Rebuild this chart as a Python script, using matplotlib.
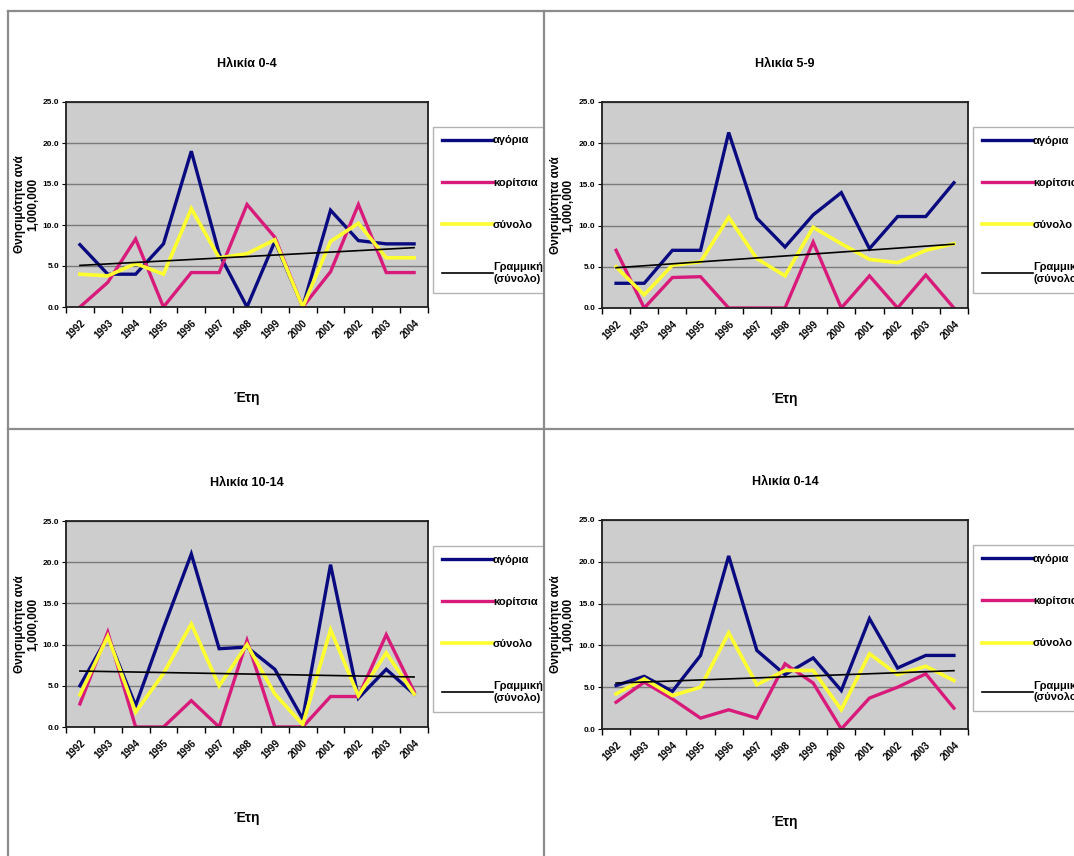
import numpy as np
import matplotlib.pyplot as plt
from matplotlib.transforms import Bbox, TransformedBbox
from matplotlib.lines import Line2D

plt.rcParams['font.family'] = ['Liberation Sans', 'DejaVu Sans']
plt.rcParams['font.weight'] = 'bold'

years = [str(y) for y in range(1992, 2005)]
titles = ["Ηλικία 0-4", "Ηλικία 5-9", "Ηλικία 10-14", "Ηλικία 0-14"]
series_names = ["αγόρια", "κορίτσια", "σύνολο", "Γραμμική\n(σύνολο)"]

# values per 1,000,000
boys_0_4 = [7.6, 4.0, 4.0, 7.7, 19.0, 6.5, 0.0, 8.0, 0.0, 11.8, 8.1, 7.7, 7.7]
girls_0_4 = [0.0, 3.0, 8.3, 0.0, 4.2, 4.2, 12.5, 8.5, 0.0, 4.3, 12.5, 4.2, 4.2]
total_0_4 = [4.0, 3.8, 5.3, 4.0, 12.0, 6.0, 6.5, 8.2, 0.0, 8.0, 10.2, 6.0, 6.0]

boys_5_9 = [3.0, 3.0, 7.0, 7.0, 21.3, 10.9, 7.4, 11.3, 14.0, 7.2, 11.1, 11.1, 15.2]
girls_5_9 = [7.0, 0.0, 3.7, 3.8, 0.0, 0.0, 0.0, 8.0, 0.0, 3.9, 0.0, 4.0, 0.0]
total_5_9 = [5.0, 1.6, 5.2, 5.6, 11.0, 6.0, 3.9, 9.8, 7.8, 5.9, 5.5, 7.0, 7.8]

boys_10_14 = [5.0, 11.0, 2.6, 12.0, 21.0, 9.5, 9.7, 7.0, 1.0, 19.7, 3.5, 7.0, 4.0]
girls_10_14 = [2.8, 11.5, 0.0, 0.0, 3.2, 0.0, 10.5, 0.0, 0.0, 3.7, 3.7, 11.2, 4.3]
total_10_14 = [3.9, 11.0, 1.8, 6.5, 12.5, 5.0, 10.0, 4.0, 0.3, 11.8, 3.8, 9.0, 4.0]

boys_0_14 = [5.2, 6.3, 4.5, 8.8, 20.7, 9.4, 6.5, 8.5, 4.6, 13.2, 7.3, 8.8, 8.8]
girls_0_14 = [3.2, 5.6, 3.6, 1.3, 2.3, 1.3, 7.8, 5.5, 0.0, 3.7, 5.0, 6.6, 2.5]
total_0_14 = [4.2, 6.0, 4.0, 5.0, 11.5, 5.3, 7.0, 7.0, 2.3, 9.0, 6.5, 7.5, 5.8]

panels = [
    (boys_0_4, girls_0_4, total_0_4),
    (boys_5_9, girls_5_9, total_5_9),
    (boys_10_14, girls_10_14, total_10_14),
    (boys_0_14, girls_0_14, total_0_14),
]

W, H = 1074, 856
fig = plt.figure(figsize=(W / 100, H / 100), dpi=100)

# axes boxes in pixels: left, top, right, bottom ; then the clip region of each panel
axes_px = [(66, 102, 428, 307), (602, 102, 968, 308),
           (66, 521, 428, 727), (602, 520, 968, 729)]
clip_px = [(8, 11, 543, 429), (545, 11, 1074, 429),
           (8, 430, 543, 856), (545, 430, 1074, 856)]

# scan border and dividers
for (x0, y0, x1, y1) in [(8, 11, 1074, 11), (8, 11, 8, 856),
                         (544, 11, 544, 856), (8, 429, 1074, 429)]:
    fig.add_artist(Line2D([x0 / W, x1 / W], [1 - y0 / H, 1 - y1 / H],
                          color='#8c8c8c', lw=1.6))

colors = ['#0a0a80', '#d81b7a', '#ffff30']

for i, (boys, girls, total) in enumerate(panels):
    l, t, r, b = axes_px[i]
    ax = fig.add_axes([l / W, 1 - b / H, (r - l) / W, (b - t) / H])
    ax.set_facecolor('#cdcdcd')
    x = np.arange(len(years))

    h1, = ax.plot(x, boys, color=colors[0], lw=2.4, solid_joinstyle='miter')
    h2, = ax.plot(x, girls, color=colors[1], lw=2.4, solid_joinstyle='miter')
    h3, = ax.plot(x, total, color=colors[2], lw=2.6, solid_joinstyle='miter')
    k, c = np.polyfit(x, total, 1)
    h4, = ax.plot(x, k * x + c, color='black', lw=1.2)

    ax.set_xlim(-0.5, len(years) - 0.5)
    ax.set_ylim(0, 25)
    ax.set_yticks(np.arange(0, 26, 5))
    ax.set_yticklabels([f"{v:.1f}" for v in np.arange(0, 26, 5)], fontsize=6)
    ax.yaxis.grid(True, color='#7a7a7a', lw=1.0)
    ax.set_axisbelow(True)
    ax.set_xticks(x)
    ax.set_xticklabels(years, rotation=45, ha='right', rotation_mode='anchor',
                       fontsize=7)
    ax.set_xticks(np.arange(-0.5, len(years)), minor=True)
    ax.tick_params(axis='x', which='major', length=0, pad=8)
    ax.tick_params(axis='x', which='minor', length=4, width=1)
    ax.tick_params(axis='y', length=3, pad=2)
    for s in ax.spines.values():
        s.set_linewidth(1.3)
        s.set_color('#202020')

    ax.set_title(titles[i], fontsize=9, fontweight='bold', pad=25)
    ax.set_xlabel("Έτη", fontsize=10, fontweight='bold')
    ax.xaxis.set_label_coords(0.5, -0.41)
    ax.set_ylabel("Θνησιμότητα ανά\n1,000,000", fontsize=8.5, fontweight='bold',
                  linespacing=1.05)
    ax.yaxis.set_label_coords(-0.075, 0.5)

    leg = ax.legend([h1, h2, h3, h4], series_names, loc='upper left',
                    bbox_to_anchor=(1.014, 0.88), fontsize=8,
                    handlelength=4.6, handletextpad=0.0, labelspacing=2.9,
                    frameon=True, fancybox=False, borderpad=0.8,
                    borderaxespad=0)
    leg.get_frame().set_edgecolor('#a0a0a0')
    leg.get_frame().set_linewidth(1.0)
    cx0, cy0, cx1, cy1 = clip_px[i]
    cb = TransformedBbox(Bbox([[cx0 / W, 1 - cy1 / H], [cx1 / W, 1 - cy0 / H]]),
                         fig.transFigure)
    leg.get_frame().set_clip_box(cb)
    leg.get_frame().set_clip_on(True)
    for txt in leg.get_texts():
        txt.set_clip_box(cb)
        txt.set_clip_on(True)

fig.savefig("out.png", dpi=100)
